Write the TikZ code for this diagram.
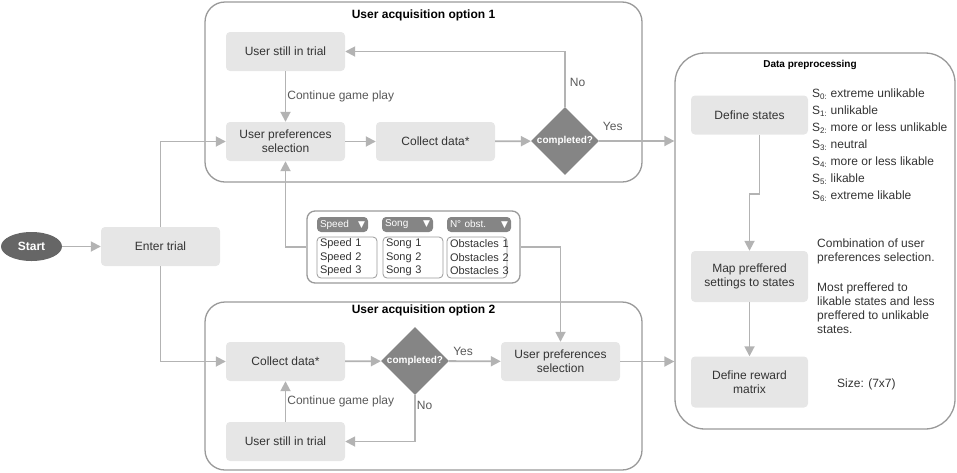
\documentclass[tikz,border=0pt]{standalone}
\usepackage{fontspec}
\setmainfont{Liberation Sans}
\newfontfamily\symfont{DejaVu Sans}
\usetikzlibrary{shapes.geometric,arrows.meta}
\definecolor{boxgray}{HTML}{E6E6E6}
\definecolor{linegray}{HTML}{B3B3B3}
\definecolor{framegray}{HTML}{999999}
\definecolor{darkfill}{HTML}{858585}
\definecolor{startfill}{HTML}{666666}
\definecolor{textdark}{HTML}{333333}
\definecolor{labelgray}{HTML}{595959}
\newcommand{\dropmark}{{\symfont\fontsize{9}{9}\selectfont ▼}}

\begin{document}
\begin{tikzpicture}[x = 1pt, y = -1pt,
  box/.style = {rectangle, rounded corners = 4pt, fill = boxgray, text = textdark, minimum width = 119pt, minimum height = 39pt, inner sep = 2pt, align = center, font = \fontsize{12}{14}\selectfont},
  frame/.style = {rectangle, rounded corners = 20pt, draw = framegray, line width = 1.3pt},
  heading/.style = {text = black, font = \bfseries\fontsize{12}{14}\selectfont},
  decision/.style = {diamond, fill = darkfill, text = white, inner sep = 0pt, minimum width = 68pt, minimum height = 68pt, font = \bfseries\fontsize{10}{12}\selectfont},
  flow/.style = {draw = linegray, line width = 1.8pt, -{Triangle[length = 10pt, width = 10pt]}},
  lbl/.style = {text = labelgray, inner sep = 1pt, font = \fontsize{12}{14}\selectfont},
  plain/.style = {text = textdark, inner sep = 0pt, align = left, font = \fontsize{12}{14}\selectfont},
  dropbtn/.style = {rectangle, rounded corners = 4pt, fill = darkfill, text = white, minimum height = 15pt, inner xsep = 3pt, inner ysep = 0pt, align = left, font = \fontsize{10}{12}\selectfont},
  droplist/.style = {rectangle, rounded corners = 4pt, draw = framegray, line width = 0.8pt, minimum width = 60pt, minimum height = 41pt, inner xsep = 2pt, inner ysep = 0pt, text width = 54pt, align = left, text = textdark, font = \fontsize{11}{13.5}\selectfont}]
\useasboundingbox (0, 0) rectangle (957, 472);

% frames
\node[frame, minimum width = 437pt, minimum height = 180pt] (optone) at (423.5, 92) {};
\node[heading] (optonetitle) at (423.5, 15) {User acquisition option 1};
\node[frame, minimum width = 437pt, minimum height = 168pt] (opttwo) at (423.5, 386) {};
\node[heading] (opttwotitle) at (423.5, 310) {User acquisition option 2};
\node[frame, rounded corners = 30pt, minimum width = 280pt, minimum height = 376pt] (prep) at (815, 241) {};
\node[heading, font = \bfseries\fontsize{10}{12}\selectfont] (preptitle) at (810, 65) {Data preprocessing};

\node[ellipse, fill = startfill, text = white, minimum width = 61pt, minimum height = 29pt, inner sep = 0pt, font = \bfseries\fontsize{12}{14}\selectfont] (start) at (31.5, 246.5) {Start};
\node[box] (enter) at (160.5, 246.5) {Enter trial};

% option 1
\node[box] (trialone) at (285.5, 51.5) {User still in trial};
\node[box] (prefone) at (285.5, 141.5) {User preferences\\selection};
\node[box] (collectone) at (435.5, 141.5) {Collect data*};
\node[decision] (decone) at (565, 141) {completed?};

% option 2
\node[box] (collecttwo) at (285.5, 361.5) {Collect data*};
\node[decision] (dectwo) at (415, 361) {completed?};
\node[box] (preftwo) at (560.5, 361.5) {User preferences\\selection};
\node[box] (trialtwo) at (285.5, 441.5) {User still in trial};

% preprocessing
\node[box, minimum width = 117pt] (states) at (749.5, 115) {Define states};
\node[box, minimum width = 117pt, minimum height = 51pt] (map) at (749.5, 276.5) {Map preffered\\settings to states};
\node[box, minimum width = 117pt, minimum height = 51pt] (reward) at (749.5, 382) {Define reward\\matrix};
\node[plain, anchor = west, font = \fontsize{12}{17}\selectfont] (statelist) at (812, 145) {S\textsubscript{0:} extreme unlikable\\S\textsubscript{1:} unlikable\\S\textsubscript{2:} more or less unlikable\\S\textsubscript{3:} neutral\\S\textsubscript{4:} more or less likable\\S\textsubscript{5:} likable\\S\textsubscript{6:} extreme likable};
\node[plain, anchor = west] (mapnote) at (817, 286) {Combination of user\\preferences selection.\\[16pt]Most preffered to\\likable states and less\\preffered to unlikable\\states.};
\node[plain, anchor = west] (sizenote) at (837, 384) {Size: (7x7)};

% settings menu
\node[frame, rounded corners = 8pt, minimum width = 213pt, minimum height = 72pt] (dropbox) at (413.5, 247) {};
\node[dropbtn, text width = 45pt] (speedbtn) at (342.5, 224.5) {Speed\hfill\dropmark};
\node[dropbtn, text width = 45pt] (songbtn) at (407.5, 224.5) {Song\hfill\dropmark};
\node[dropbtn, text width = 58pt] (obstbtn) at (479, 224.5) {N° obst.\hfill\dropmark};
\node[droplist] (speedlist) at (347, 257.5) {Speed~1\\Speed~2\\Speed~3\\[-4pt]};
\node[droplist] (songlist) at (413, 257.5) {Song~1\\Song~2\\Song~3\\[-4pt]};
\node[droplist] (obstlist) at (477, 257.5) {Obstacles~1\\Obstacles~2\\Obstacles~3\\[-4pt]};

\draw[flow] (start) -- (enter);
\draw[flow] (enter.north) |- (prefone.west);
\draw[flow] (enter.south) |- (collecttwo.west);
\draw[flow] (trialone) -- node[lbl, right] (contone) {Continue game play} (prefone);
\draw[flow] (prefone) -- (collectone);
\draw[flow] (collectone) -- (decone);
\draw[flow] (decone.north) |- node[lbl, pos = 0.22, right = 3pt] (noone) {No} (trialone.east);
\draw[flow] (decone.east) -- node[lbl, pos = 0.18, above = 8pt] (yesone) {Yes} (decone.east -| prep.west);
\draw[flow] (dropbox.west) -| (prefone.south);
\draw[flow] (dropbox.east) -| (preftwo.north);
\draw[flow] (collecttwo) -- (dectwo);
\draw[flow] (dectwo) -- node[lbl, pos = 0.27, above = 4pt] (yestwo) {Yes} (preftwo);
\draw[flow] (dectwo.south) |- node[lbl, pos = 0.11, right] (notwo) {No} (trialtwo.east);
\draw[flow] (trialtwo) -- node[lbl, right] (conttwo) {Continue game play} (collecttwo);
\draw[flow] (preftwo) -- (preftwo -| prep.west);
\draw[flow] ([xshift = 10pt]states.south) |- ([yshift = -59pt]states.south) -| (map.north);
\draw[flow] (map) -- (reward);
\end{tikzpicture}
\end{document}
